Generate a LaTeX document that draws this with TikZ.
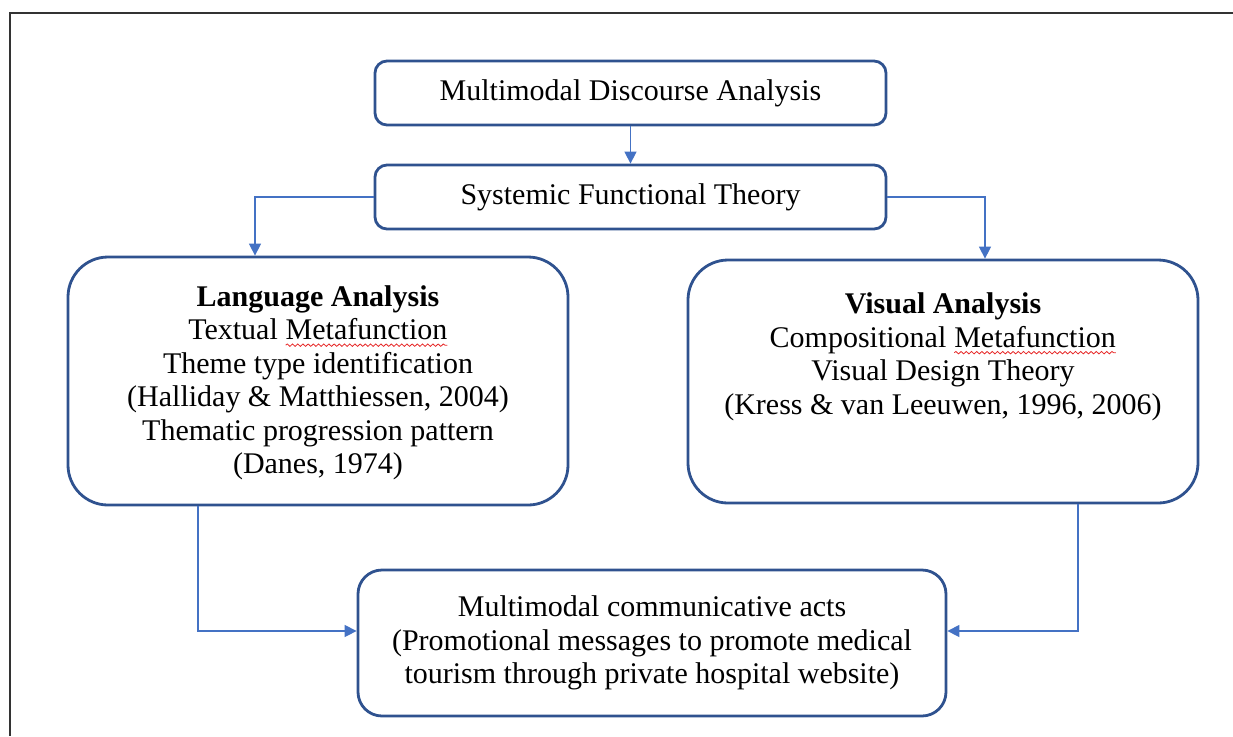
\documentclass[tikz,border=0pt]{standalone}
\usepackage{fontspec}
\setmainfont{Liberation Serif}
\usetikzlibrary{arrows.meta,decorations.pathmorphing}
\definecolor{boxblue}{RGB}{47,82,143}
\definecolor{lineblue}{RGB}{68,114,196}
\definecolor{spellred}{RGB}{230,40,40}
\newcommand{\spellwave}[1]{\tikz[baseline=(sw.base)]{\node[inner sep=0pt,outer sep=0pt] (sw) {#1};
  \draw[spellred,line width=0.4pt,decorate,decoration={snake,amplitude=0.6pt,segment length=2.6pt}] ([yshift=-2.6pt]sw.base west) -- ([yshift=-2.6pt]sw.base east);}}
\tikzset{
  smallbox/.style={draw=boxblue,line width=1.4pt,rounded corners=6pt,minimum width=255.5pt,minimum height=32pt,font=\fontsize{15}{16.75}\selectfont},
  bigbox/.style={draw=boxblue,line width=1.4pt,rounded corners=20pt},
  boxtext/.style={align=center,font=\fontsize{15}{16.75}\selectfont},
  link/.style={draw=lineblue,line width=0.7pt,-{Triangle[length=6pt,width=6pt]}}
}
\begin{document}
\begin{tikzpicture}[x=0.5pt,y=-0.5pt]
    \useasboundingbox (0,0) rectangle (1233,736);
    % outer frame
    \draw[line width=1.1pt,color=black!80] (1233,13) -- (10,13) -- (10,736);
    % boxes
    \node[smallbox] (mda) at (630.5,93) {Multimodal Discourse Analysis};
    \node[smallbox] (sft) at (630.5,197) {Systemic Functional Theory};
    \node[bigbox,minimum width=250pt,minimum height=124pt] (lang) at (318,381) {};
    \node[boxtext] (langtxt) at (318,383) {%
      \textbf{Language Analysis}\\
      Textual \spellwave{Metafunction}\\
      Theme type identification\\
      (Halliday \& Matthiessen, 2004)\\
      Thematic progression pattern\\
      (Danes, 1974)};
    \node[bigbox,minimum width=255pt,minimum height=121.5pt] (visual) at (943,381.5) {};
    \node[boxtext] (visualtxt) at (943,357) {%
      \textbf{Visual Analysis}\\
      Compositional \spellwave{Metafunction}\\
      Visual Design Theory\\
      (Kress \& van Leeuwen, 1996, 2006)};
    \node[bigbox,boxtext,minimum width=294pt,minimum height=73pt,rounded corners=12pt] (acts) at (652,643) {%
      Multimodal communicative acts\\
      (Promotional messages to promote medical\\
      tourism through private hospital website)};
    % connectors
    \draw[link] (mda.south) -- (sft.north);
    \draw[link] (sft.west) -| ([xshift=-31.5pt]lang.north);
    \draw[link] (sft.east) -| ([xshift=21pt]visual.north);
    \draw[link] ([xshift=-60pt]lang.south) |- ([yshift=6pt]acts.west);
    \draw[link] ([xshift=67.5pt]visual.south) |- ([yshift=6pt]acts.east);
\end{tikzpicture}
\end{document}
